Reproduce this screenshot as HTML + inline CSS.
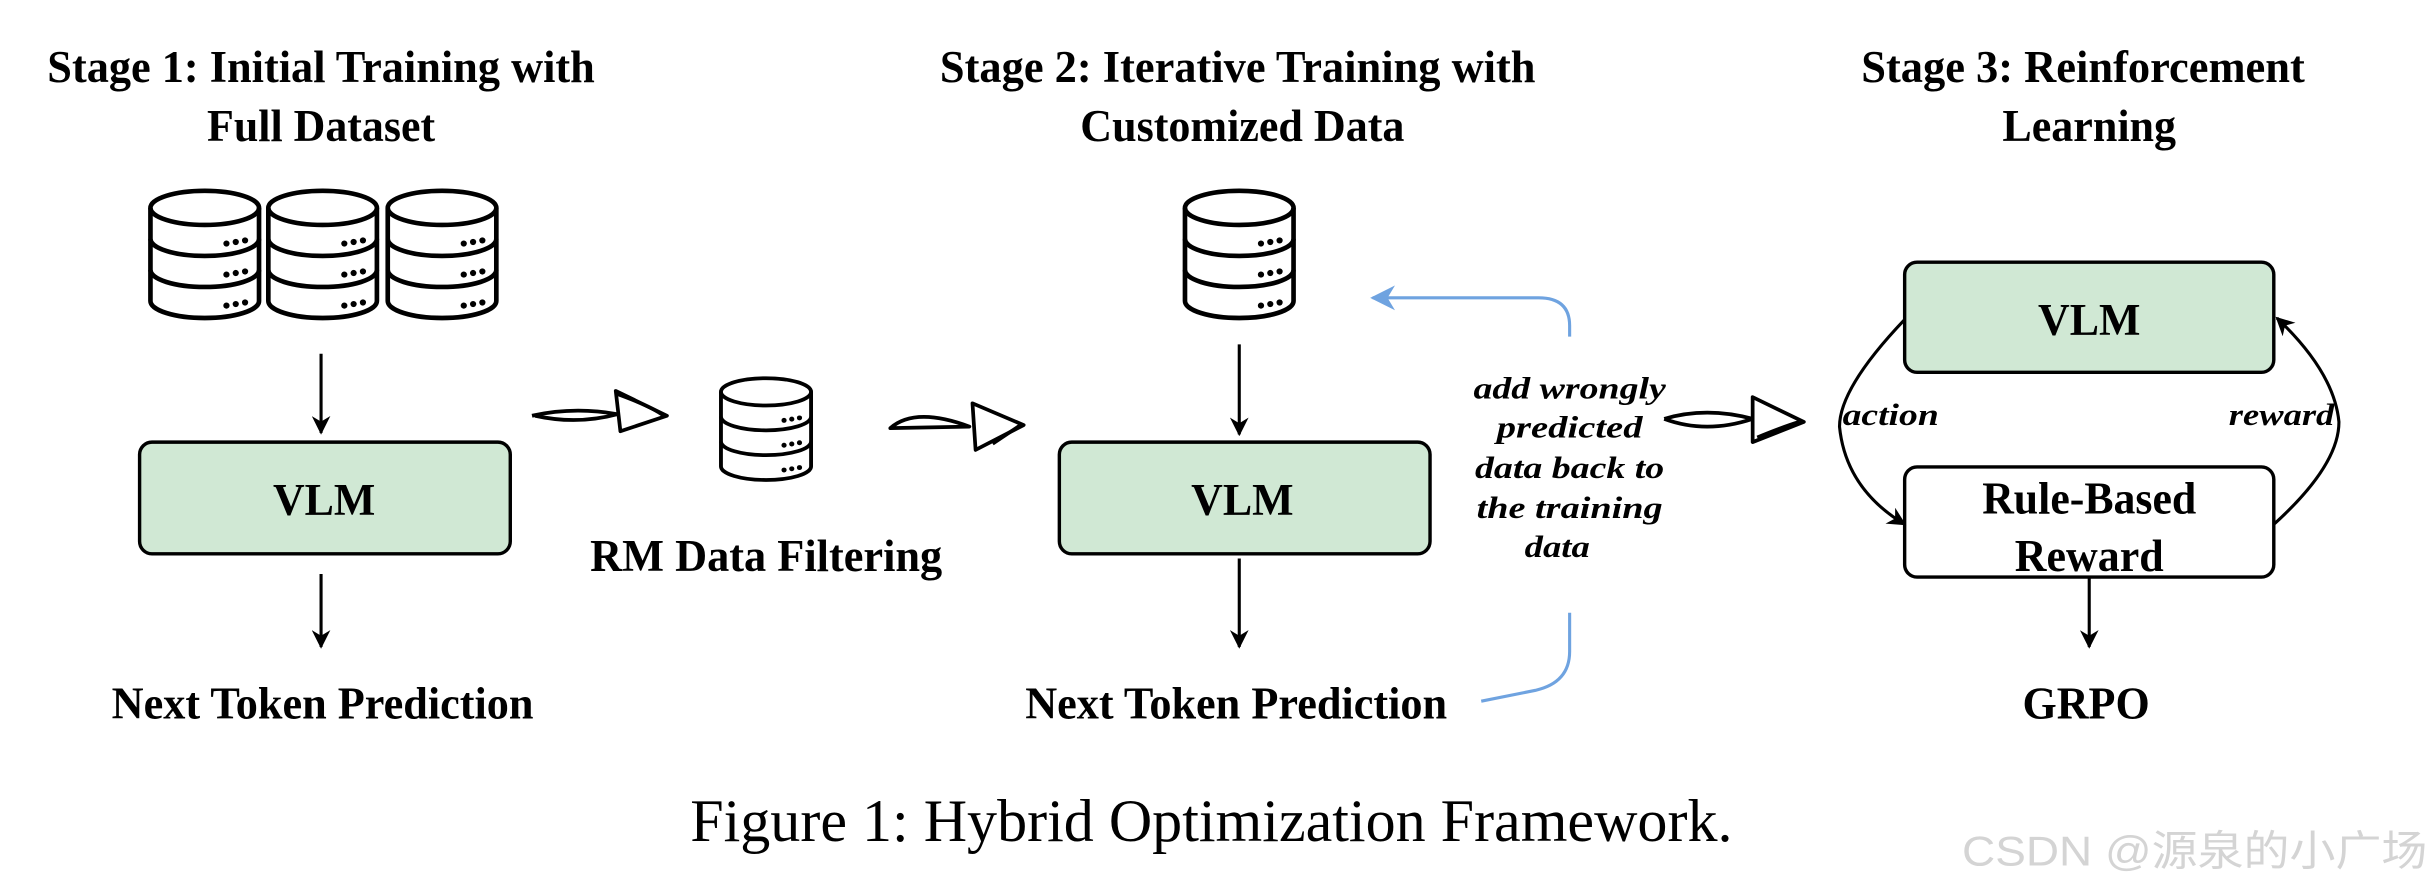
<!DOCTYPE html>
<html><head><meta charset="utf-8"><style>
html,body{margin:0;padding:0;background:#fff;}
svg{display:block;}
.t{font-family:"Liberation Serif",serif;font-weight:bold;font-size:29px;fill:#000;}
.i{font-family:"Liberation Serif",serif;font-weight:bold;font-style:italic;font-size:20px;fill:#000;}
</style></head><body>
<svg width="2432" height="892" viewBox="0 0 1568 575" preserveAspectRatio="none" xmlns="http://www.w3.org/2000/svg">
<defs>
<g id="db" fill="none" stroke="#000" stroke-width="3">
<ellipse cx="36" cy="12" rx="35" ry="11" fill="#fff"/>
<path d="M1,12 L1,72 A35,11 0 0 0 71,72 L71,12"/>
<path d="M1,32 A35,11 0 0 0 71,32"/>
<path d="M1,52 A35,11 0 0 0 71,52"/>
<g fill="#000" stroke="none">
<circle cx="50" cy="35" r="2"/><circle cx="56" cy="34" r="2"/><circle cx="62" cy="33" r="2"/>
<circle cx="50" cy="55" r="2"/><circle cx="56" cy="54" r="2"/><circle cx="62" cy="53" r="2"/>
<circle cx="50" cy="75" r="2"/><circle cx="56" cy="74" r="2"/><circle cx="62" cy="73" r="2"/>
</g>
</g>
<marker id="ah" viewBox="0 0 10 10" refX="9" refY="5" markerWidth="6" markerHeight="6" orient="auto"><path d="M0,0 L10,5 L0,10 L3,5 Z" fill="#000"/></marker>
<marker id="bh" viewBox="0 0 10 10" refX="9" refY="5" markerWidth="8" markerHeight="8" orient="auto"><path d="M0,0 L10,5 L0,10 L3,5 Z" fill="#6fa3e0"/></marker>
</defs>

<text class="t" x="207" y="53" text-anchor="middle" textLength="353" lengthAdjust="spacingAndGlyphs">Stage 1: Initial Training with</text>
<text class="t" x="207" y="91" text-anchor="middle" textLength="147" lengthAdjust="spacingAndGlyphs">Full Dataset</text>
<text class="t" x="798" y="53" text-anchor="middle" textLength="384" lengthAdjust="spacingAndGlyphs">Stage 2: Iterative Training with</text>
<text class="t" x="801" y="91" text-anchor="middle" textLength="209" lengthAdjust="spacingAndGlyphs">Customized Data</text>
<text class="t" x="1343" y="53" text-anchor="middle" textLength="286" lengthAdjust="spacingAndGlyphs">Stage 3: Reinforcement</text>
<text class="t" x="1347" y="91" text-anchor="middle" textLength="112" lengthAdjust="spacingAndGlyphs">Learning</text>

<use href="#db" x="96" y="122"/>
<use href="#db" x="172" y="122"/>
<use href="#db" x="249" y="122"/>
<line x1="207" y1="228" x2="207" y2="279" stroke="#000" stroke-width="2" marker-end="url(#ah)"/>
<rect x="90" y="285" width="239" height="72" rx="8" fill="#d0e8d4" stroke="#000" stroke-width="2.2"/>
<text class="t" x="209" y="332" text-anchor="middle" textLength="66" lengthAdjust="spacingAndGlyphs">VLM</text>
<line x1="207" y1="370" x2="207" y2="417" stroke="#000" stroke-width="2" marker-end="url(#ah)"/>
<text class="t" x="208" y="463" text-anchor="middle" textLength="272" lengthAdjust="spacingAndGlyphs">Next Token Prediction</text>

<g fill="none" stroke="#000" stroke-width="2.4" stroke-linejoin="round">
<path d="M343,268 Q370,262 398,267 Q372,274 345,268"/>
<path d="M397,252 L430,268 L400,278 Z"/><path d="M398,254 Q420,262 428,268"/>
</g>
<use href="#db" transform="translate(464,243) scale(0.83,0.8)"/>
<text class="t" x="494" y="368" text-anchor="middle" textLength="227" lengthAdjust="spacingAndGlyphs">RM Data Filtering</text>
<g fill="none" stroke="#000" stroke-width="2.4" stroke-linejoin="round">
<path d="M574,276 Q590,262 625,275 Z"/>
<path d="M627,260 L660,274 L629,290 Z"/><path d="M640,286 Q652,278 658,274"/>
</g>

<use href="#db" x="763" y="122"/>
<line x1="799" y1="222" x2="799" y2="280" stroke="#000" stroke-width="2" marker-end="url(#ah)"/>
<rect x="683" y="285" width="239" height="72" rx="8" fill="#d0e8d4" stroke="#000" stroke-width="2.2"/>
<text class="t" x="801" y="332" text-anchor="middle" textLength="66" lengthAdjust="spacingAndGlyphs">VLM</text>
<line x1="799" y1="360" x2="799" y2="417" stroke="#000" stroke-width="2" marker-end="url(#ah)"/>
<text class="t" x="797" y="463" text-anchor="middle" textLength="272" lengthAdjust="spacingAndGlyphs">Next Token Prediction</text>
<path d="M1012,217 L1012,210 Q1012,192 992,192 L885,192" fill="none" stroke="#6fa3e0" stroke-width="2" marker-end="url(#bh)"/>
<path d="M1012,395 L1012,420 Q1012,440 990,445 L955,452" fill="none" stroke="#6fa3e0" stroke-width="2"/>
<text class="i" x="1012" y="257" text-anchor="middle" textLength="124" lengthAdjust="spacingAndGlyphs">add wrongly</text>
<text class="i" x="1012" y="282" text-anchor="middle" textLength="94" lengthAdjust="spacingAndGlyphs">predicted</text>
<text class="i" x="1012" y="308" text-anchor="middle" textLength="122" lengthAdjust="spacingAndGlyphs">data back to</text>
<text class="i" x="1012" y="334" text-anchor="middle" textLength="120" lengthAdjust="spacingAndGlyphs">the training</text>
<text class="i" x="1004" y="359" text-anchor="middle" textLength="42" lengthAdjust="spacingAndGlyphs">data</text>
<g fill="none" stroke="#000" stroke-width="2.4" stroke-linejoin="round">
<path d="M1073,270 Q1100,262 1130,270 Q1100,280 1073,270"/>
<path d="M1130,256 L1163,272 L1130,285 Z"/><path d="M1133,282 Q1150,275 1160,272"/>
</g>

<rect x="1228" y="169" width="238" height="71" rx="8" fill="#d0e8d4" stroke="#000" stroke-width="2.2"/>
<text class="t" x="1347" y="216" text-anchor="middle" textLength="66" lengthAdjust="spacingAndGlyphs">VLM</text>
<rect x="1228" y="301" width="238" height="71" rx="8" fill="#fff" stroke="#000" stroke-width="2.2"/>
<text class="t" x="1347" y="331" text-anchor="middle" textLength="138" lengthAdjust="spacingAndGlyphs">Rule-Based</text>
<text class="t" x="1347" y="368" text-anchor="middle" textLength="96" lengthAdjust="spacingAndGlyphs">Reward</text>
<path d="M1228,206 Q1186,250 1186,275 Q1190,315 1228,338" fill="none" stroke="#000" stroke-width="2" marker-end="url(#ah)"/>
<path d="M1466,338 Q1508,300 1508,272 Q1505,240 1468,205" fill="none" stroke="#000" stroke-width="2" marker-end="url(#ah)"/>
<text class="i" x="1188" y="274" textLength="62" lengthAdjust="spacingAndGlyphs">action</text>
<text class="i" x="1437" y="274" textLength="68" lengthAdjust="spacingAndGlyphs">reward</text>
<line x1="1347" y1="372" x2="1347" y2="417" stroke="#000" stroke-width="2" marker-end="url(#ah)"/>
<text class="t" x="1345" y="463" text-anchor="middle" textLength="82" lengthAdjust="spacingAndGlyphs">GRPO</text>

<text x="781" y="542" text-anchor="middle" textLength="672" lengthAdjust="spacingAndGlyphs" style="font-family:'Liberation Serif',serif;font-size:39px;fill:#000;">Figure 1: Hybrid Optimization Framework.</text>
<text x="1265" y="558" textLength="300" lengthAdjust="spacingAndGlyphs" style="font-family:'Liberation Sans','Noto Sans CJK SC',sans-serif;font-size:27px;fill:#d4d4d4;">CSDN @源泉的小广场</text>
</svg>
</body></html>
